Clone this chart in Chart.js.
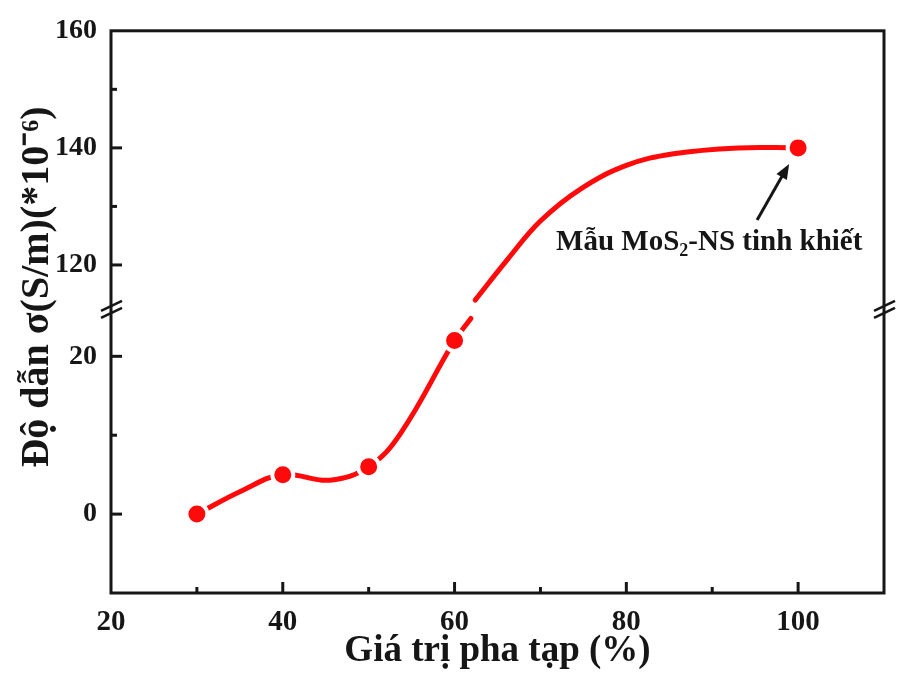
<!DOCTYPE html>
<html>
<head>
<meta charset="utf-8">
<script src="https://cdn.jsdelivr.net/npm/chart.js@4"></script>
<style>
  html, body { margin: 0; padding: 0; background: #ffffff; }
  #wrap { width: 915px; height: 675px; position: relative; }
</style>
</head>
<body>
<div id="wrap"><canvas id="c"></canvas></div>
<script>
// Measured conductivity vs. doping level
const dopingLevels = [30, 40, 50, 60, 100];
const conductivity = [0, 5, 6, 22, 140];

// Smoothed trend curve through the measurements (null = where the axis is broken)
const trendX = [30, 35.3, 40, 45.5, 50, 53.7, 60, 61.9, 62.2, 62.4, 66.2, 70, 74.7, 80, 85.5, 93, 100];
const trendY = [0, 3.0, 5, 4.3, 6, 10.2, 22, 24.8, null, 114, 121, 127.5, 133, 137, 139, 140, 140];

// Axis ticks
const xTickValues = [20, 30, 40, 50, 60, 70, 80, 90, 100, 110];
const xTickLabels = [20, 40, 60, 80, 100];
const yTickValues = [0, 10, 20, 120, 130, 140, 150, 160];
const yTickLabels = [0, 20, 120, 140, 160];

const yTitle = 'Độ dẫn σ(S/m)(*10⁻⁶)';
const xTitle = 'Giá trị pha tạp (%)';

const INK = '#161616';
const RED = '#ff0a0a';
const SERIF = "'Liberation Serif', 'Times New Roman', serif";

// Linear scale with a break: a low band and a high band joined by a short gap
class BrokenScale extends Chart.LinearScale {
  static id = 'broken';
  _frac(v) {
    const s = this.options.split;
    const lf = s.lowFraction, gf = s.gapFraction;
    if (v <= s.lowTo) return (v - this.min) / (s.lowTo - this.min) * lf;
    if (v >= s.highFrom) return lf + gf + (v - s.highFrom) / (this.max - s.highFrom) * (1 - lf - gf);
    return lf + (v - s.lowTo) / (s.highFrom - s.lowTo) * gf;
  }
  getPixelForValue(v) {
    return this.bottom - this._frac(v) * (this.bottom - this.top);
  }
  getValueForPixel(p) {
    const s = this.options.split;
    const lf = s.lowFraction, gf = s.gapFraction;
    const f = (this.bottom - p) / (this.bottom - this.top);
    if (f <= lf) return this.min + f / lf * (s.lowTo - this.min);
    if (f >= lf + gf) return s.highFrom + (f - lf - gf) / (1 - lf - gf) * (this.max - s.highFrom);
    return s.lowTo + (f - lf) / gf * (s.highFrom - s.lowTo);
  }
}
Chart.register(BrokenScale);

// Frame, inward tick marks, break marks, y title and the pure-sample note
const framePlugin = {
  id: 'frame',
  afterDraw(chart) {
    const { ctx, chartArea: a, scales } = chart;
    const xs = scales.x, ys = scales.y;
    ctx.save();
    ctx.strokeStyle = INK;
    ctx.lineWidth = 3;
    ctx.lineCap = 'butt';
    ctx.strokeRect(a.left, a.top, a.right - a.left, a.bottom - a.top);

    // inward ticks
    xTickValues.forEach(v => {
      const px = xs.getPixelForValue(v);
      if (px <= a.left + 2 || px >= a.right - 2) return;
      const len = xTickLabels.includes(v) ? 11 : 6;
      ctx.beginPath();
      ctx.moveTo(px, a.bottom);
      ctx.lineTo(px, a.bottom - len);
      ctx.stroke();
    });
    yTickValues.forEach(v => {
      const py = ys.getPixelForValue(v);
      if (py <= a.top + 2 || py >= a.bottom - 2) return;
      const len = yTickLabels.includes(v) ? 11 : 6;
      ctx.beginPath();
      ctx.moveTo(a.left, py);
      ctx.lineTo(a.left + len, py);
      ctx.stroke();
    });

    // break marks on both vertical axes
    const s = ys.options.split;
    const yb = ys.getPixelForValue((s.lowTo + s.highFrom) / 2) - 2;
    ctx.lineWidth = 2.6;
    [a.left, a.right].forEach(x0 => {
      [-3.5, 3.5].forEach(d => {
        ctx.beginPath();
        ctx.moveTo(x0 - 10, yb + d + 5);
        ctx.lineTo(x0 + 11, yb + d - 5);
        ctx.stroke();
      });
    });

    // rotated y-axis title
    ctx.fillStyle = INK;
    ctx.save();
    ctx.translate(38, 287);
    ctx.rotate(-Math.PI / 2);
    ctx.font = 'bold 40px ' + SERIF;
    ctx.textAlign = 'center';
    ctx.textBaseline = 'middle';
    ctx.fillText(yTitle, 0, 0);
    ctx.restore();

    // note pointing at the pure sample
    const mx = xs.getPixelForValue(dopingLevels[4]);
    const my = ys.getPixelForValue(conductivity[4]);
    const tipX = mx - 9, tipY = my + 16;
    const tailX = mx - 41, tailY = my + 72;
    const ang = Math.atan2(tipY - tailY, tipX - tailX);
    const headLen = 15, headW = 6;
    ctx.lineWidth = 3;
    ctx.beginPath();
    ctx.moveTo(tailX, tailY);
    ctx.lineTo(tipX - Math.cos(ang) * headLen * 0.8, tipY - Math.sin(ang) * headLen * 0.8);
    ctx.stroke();
    ctx.beginPath();
    ctx.moveTo(tipX, tipY);
    ctx.lineTo(tipX - Math.cos(ang) * headLen - Math.sin(ang) * headW, tipY - Math.sin(ang) * headLen + Math.cos(ang) * headW);
    ctx.lineTo(tipX - Math.cos(ang) * headLen + Math.sin(ang) * headW, tipY - Math.sin(ang) * headLen - Math.cos(ang) * headW);
    ctx.closePath();
    ctx.fill();

    const big = 'bold 29px ' + SERIF;
    const small = 'bold 18px ' + SERIF;
    let tx = mx - 242;
    const ty = my + 102;
    ctx.textBaseline = 'alphabetic';
    ctx.textAlign = 'left';
    ctx.font = big;
    ctx.fillText('Mẫu MoS', tx, ty);
    tx += ctx.measureText('Mẫu MoS').width;
    ctx.font = small;
    ctx.fillText('2', tx, ty + 6);
    tx += ctx.measureText('2').width;
    ctx.font = big;
    ctx.fillText('-NS tinh khiết', tx, ty);
    ctx.restore();
  }
};

const points = dopingLevels.map((x, i) => ({ x, y: conductivity[i] }));
const trend = trendX.map((x, i) => ({ x, y: trendY[i] }));

new Chart(document.getElementById('c'), {
  type: 'line',
  data: {
    datasets: [
      {
        label: 'Đo đạc',
        data: points,
        showLine: false,
        pointRadius: 10.5,
        pointHoverRadius: 10.5,
        pointBackgroundColor: RED,
        pointBorderColor: '#ffffff',
        pointBorderWidth: 4,
        order: 0
      },
      {
        label: 'Đường xu hướng',
        data: trend,
        borderColor: RED,
        borderWidth: 5,
        borderCapStyle: 'round',
        tension: 0.4,
        pointRadius: 0,
        spanGaps: false,
        fill: false,
        order: 1
      }
    ]
  },
  options: {
    responsive: true,
    maintainAspectRatio: false,
    animation: false,
    devicePixelRatio: 1,
    layout: { padding: { left: 0, top: 21, right: 31, bottom: 0 } },
    plugins: {
      legend: { display: false },
      tooltip: { enabled: false }
    },
    scales: {
      x: {
        type: 'linear',
        min: 20,
        max: 110,
        grid: { display: false, drawTicks: false },
        border: { display: false },
        afterBuildTicks: s => { s.ticks = xTickValues.map(v => ({ value: v })); },
        afterFit: s => { s.height = 82; },
        ticks: {
          autoSkip: false,
          maxRotation: 0,
          padding: 12,
          color: INK,
          font: { family: SERIF, size: 29, weight: 'bold' },
          callback: v => xTickLabels.includes(v) ? String(v) : ''
        },
        title: {
          display: true,
          text: xTitle,
          color: INK,
          padding: { top: 0, bottom: 1 },
          font: { family: SERIF, size: 37, weight: 'bold' }
        }
      },
      y: {
        type: 'broken',
        min: -10,
        max: 160,
        split: { lowTo: 25, highFrom: 113, lowFraction: 278 / 566, gapFraction: 11 / 566 },
        grid: { display: false, drawTicks: false },
        border: { display: false },
        afterBuildTicks: s => { s.ticks = yTickValues.map(v => ({ value: v })); },
        afterFit: s => { s.width = 111; },
        ticks: {
          autoSkip: false,
          padding: 14,
          color: INK,
          font: { family: SERIF, size: 28, weight: 'bold' },
          callback: v => yTickLabels.includes(v) ? String(v) : ''
        },
        title: { display: false }
      }
    }
  },
  plugins: [framePlugin]
});
</script>
</body>
</html>
